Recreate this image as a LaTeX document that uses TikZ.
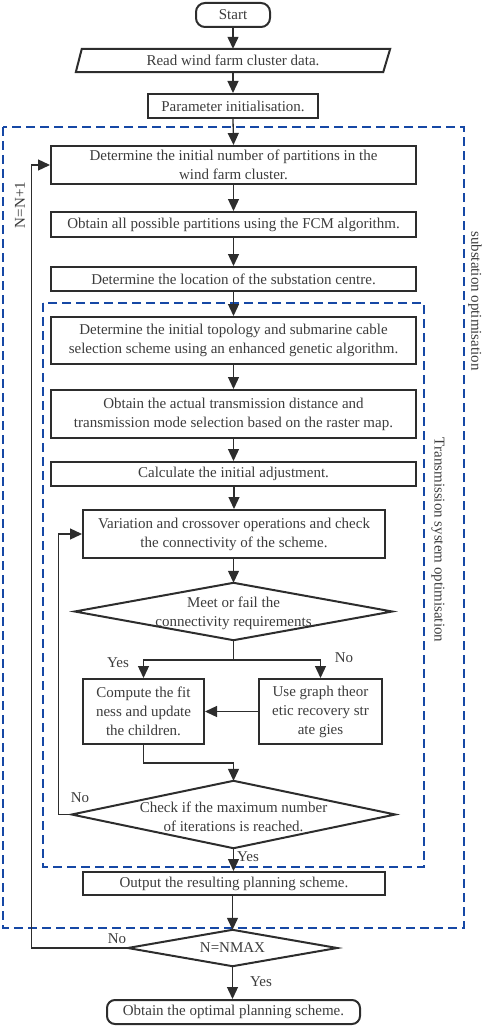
\documentclass[tikz,border=0pt]{standalone}
\usepackage{fontspec}
\setmainfont{Liberation Serif}
\usetikzlibrary{arrows.meta}
\definecolor{txtc}{RGB}{60,60,60}
\definecolor{linec}{RGB}{45,45,45}
\definecolor{dashblue}{RGB}{22,72,165}
\begin{document}
\begin{tikzpicture}[x=1pt,y=-1pt,
  every node/.style={font=\fontsize{15}{19}\selectfont, text=txtc},
  stepbox/.style={draw=linec, line width=2pt, inner sep=0pt, align=center},
  ghost/.style={draw=none, inner sep=0pt, align=center},
  outline/.style={draw=linec, line width=2pt},
  arr/.style={draw=linec, line width=1.3pt, -{Triangle[length=12pt,width=11pt]}},
  conn/.style={draw=linec, line width=1.3pt},
  region/.style={draw=dashblue, line width=2pt, dash pattern=on 9pt off 5pt},
  lab/.style={inner sep=0pt}]
\useasboundingbox (0,0) rectangle (484,1027);

% dashed regions
\draw[region] (3,127) rectangle (464,928);
\draw[region] (43,303) rectangle (424,867);
\node[lab, rotate=-90] (lsub) at (475,301) {substation optimisation};
\node[lab, rotate=-90] (ltra) at (438,540) {Transmission system optimisation};
\node[lab, rotate=90] (lnn) at (20,205) {N=N+1};

% nodes
\node[stepbox, rounded corners=9pt, minimum width=74pt, minimum height=24pt] (start) at (233,15) {Start};
\node[ghost, minimum width=314pt, minimum height=23pt] (read) at (233,60.5) {Read wind farm cluster data.};
\draw[outline] (read.south west) -- ([xshift=-7pt]read.south east) -- (read.north east) -- ([xshift=6pt]read.north west) -- cycle;
\node[stepbox, minimum width=170pt, minimum height=24pt] (param) at (233,106) {Parameter initialisation.};
\node[stepbox, minimum width=365pt, minimum height=38pt] (b1) at (233.5,165) {Determine the initial number of partitions in the\\wind farm cluster.};
\node[stepbox, minimum width=365pt, minimum height=25pt] (b2) at (233.5,224.5) {Obtain all possible partitions using the FCM algorithm.};
\node[stepbox, minimum width=365pt, minimum height=24pt] (b3) at (233.5,279) {Determine the location of the substation centre.};
\node[stepbox, minimum width=365pt, minimum height=47pt] (b4) at (233.5,340.5) {Determine the initial topology and submarine cable\\selection scheme using an enhanced genetic algorithm.};
\node[stepbox, minimum width=365pt, minimum height=48pt] (b5) at (233.5,414) {Obtain the actual transmission distance and\\transmission mode selection based on the raster map.};
\node[stepbox, minimum width=365pt, minimum height=24pt] (b6) at (233.5,474) {Calculate the initial adjustment.};
\node[stepbox, minimum width=302pt, minimum height=48pt] (b7) at (234,534) {Variation and crossover operations and check\\the connectivity of the scheme.};
\node[ghost, minimum width=317pt, minimum height=57pt] (d1) at (233.5,611.5) {};
\draw[outline] (d1.west) -- (d1.north) -- (d1.east) -- (d1.south) -- cycle;
\node[lab, align=center] (d1t) at (233.5,613) {Meet or fail the\\connectivity requirements};
\node[stepbox, minimum width=121pt, minimum height=65pt] (c) at (143.5,711.5) {Compute the fit\\ness and update\\the children.};
\node[stepbox, minimum width=123pt, minimum height=65pt] (u) at (320.5,711.5) {Use graph theor\\etic recovery str\\ate gies};
\node[ghost, minimum width=323pt, minimum height=67pt] (d2) at (233.5,814.5) {};
\draw[outline] (d2.west) -- (d2.north) -- (d2.east) -- (d2.south) -- cycle;
\node[lab, align=center] (d2t) at (233.5,817) {Check if the maximum number\\of iterations is reached.};
\node[stepbox, minimum width=302pt, minimum height=23pt] (out) at (234,883.5) {Output the resulting planning scheme.};
\node[ghost, minimum width=209pt, minimum height=36pt] (d3) at (232.5,948) {N=NMAX};
\draw[outline] (d3.west) -- (d3.north) -- (d3.east) -- (d3.south) -- cycle;
\node[stepbox, rounded corners=8pt, minimum width=253pt, minimum height=24pt] (end) at (233.5,1012) {Obtain the optimal planning scheme.};

% labels
\node[lab] (y1) at (118,663) {Yes};
\node[lab] (n1) at (344,658) {No};
\node[lab] (n2) at (80,798) {No};
\node[lab] (y2) at (248,857) {Yes};
\node[lab] (n3) at (117,939) {No};
\node[lab] (y3) at (261,982) {Yes};

% connectors
\draw[arr] (start.south) -- (read.north);
\draw[arr] (read.south) -- (param.north);
\draw[arr] (param.south) -- (b1.north);
\draw[arr] (b1.south) -- (b2.north);
\draw[arr] (b2.south) -- (b3.north);
\draw[arr] (b3.south) -- (b4.north);
\draw[arr] (b4.south) -- (b5.north);
\draw[arr] (b5.south) -- (b6.north);
\draw[arr] (b6.south -| b7.north) -- (b7.north);
\draw[arr] (b7.south -| d1.north) -- (d1.north);
\coordinate (j1) at (233.5,660);
\draw[conn] (d1.south) -- (j1);
\draw[arr] (j1) -| (c.north);
\draw[arr] (j1) -| (u.north);
\draw[arr] (u.west) -- (c.east);
\draw[arr] (c.south) -- ++(0,18) -| (d2.north);
\draw[arr] (d2.west) -- ++(-13,0) |- (b7.west);
\draw[arr] (d2.south) -- (d2.south |- out.north);
\draw[arr] (out.south -| d3.north) -- (d3.north);
\draw[arr] (d3.west) -- ++(-96,0) |- (b1.west);
\draw[arr] (d3.south) -- (d3.south |- end.north);
\end{tikzpicture}
\end{document}
